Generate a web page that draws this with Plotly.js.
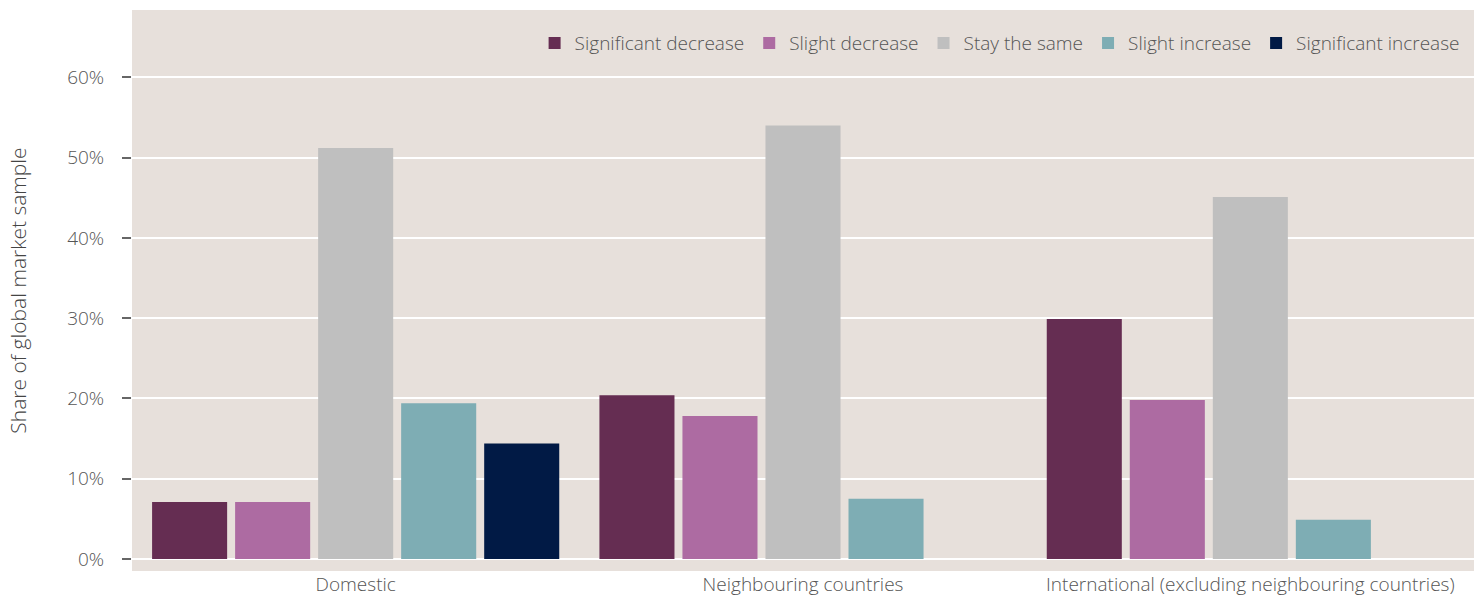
<!DOCTYPE html>
<html>
<head>
<meta charset="utf-8">
<script src="https://cdn.plot.ly/plotly-3.0.1.min.js"></script>
<style>
  html, body { margin: 0; padding: 0; background: #ffffff; }
  #chart { width: 1481px; height: 599px; }
</style>
</head>
<body>
<div id="chart"></div>
<script>
// Market regions (x categories)
const regions = ["Domestic", "Neighbouring countries", "International (excluding neighbouring countries)"];

// Expected change, share of global market sample (%)
const significantDecrease = [7.1, 20.4, 29.9];
const slightDecrease      = [7.1, 17.8, 19.8];
const stayTheSame         = [51.2, 54.0, 45.1];
const slightIncrease      = [19.4, 7.5, 4.9];
const significantIncrease = [14.4, 0, 0];

const seriesNames  = ["Significant decrease", "Slight decrease", "Stay the same", "Slight increase", "Significant increase"];
const seriesValues = [significantDecrease, slightDecrease, stayTheSame, slightIncrease, significantIncrease];
const seriesColors = ["#652d52", "#ad6ba2", "#bfbfbf", "#7eadb4", "#011a45"];

const traces = seriesNames.map((name, i) => ({
  type: "bar",
  name: name,
  x: regions,
  y: seriesValues[i],
  marker: { color: seriesColors[i], line: { width: 0 } },
  hovertemplate: "%{x}<br>" + name + ": %{y:.1f}%<extra></extra>"
}));

const font = "'Open Sans', sans-serif";

const layout = {
  width: 1481,
  height: 599,
  margin: { l: 132, r: 7, t: 10, b: 28 },
  paper_bgcolor: "#ffffff",
  plot_bgcolor: "#e7e0db",
  barmode: "group",
  bargap: 0.072,
  bargroupgap: 0.096,
  font: { family: font, color: "#555555", size: 18, weight: 300 },
  showlegend: true,
  legend: {
    orientation: "h",
    x: 0.993, xanchor: "right",
    y: 0.975, yanchor: "top",
    bgcolor: "rgba(0,0,0,0)",
    font: { family: font, size: 19, color: "#555555", weight: 300 },
    itemwidth: 30,
    tracegroupgap: 0,
    traceorder: "normal"
  },
  xaxis: {
    type: "category",
    showgrid: false,
    zeroline: false,
    showline: false,
    ticks: "",
    automargin: false,
    tickfont: { family: font, size: 19, color: "#555555", weight: 300 },
    ticklabelstandoff: 0
  },
  yaxis: {
    range: [-1.5, 68.4],
    tickvals: [0, 10, 20, 30, 40, 50, 60],
    ticktext: ["0%", "10%", "20%", "30%", "40%", "50%", "60%"],
    showgrid: true,
    gridcolor: "#ffffff",
    gridwidth: 2,
    zeroline: false,
    showline: false,
    automargin: false,
    ticks: "outside",
    ticklen: 9,
    tickwidth: 2,
    tickcolor: "#666666",
    ticklabelstandoff: 14,
    tickfont: { family: font, size: 19, color: "#555555", weight: 300 },
    title: {
      text: "Share of global market sample",
      font: { family: font, size: 21, color: "#444444", weight: 300 },
      standoff: 34
    }
  }
};

Plotly.newPlot("chart", traces, layout, { displayModeBar: false });
</script>
</body>
</html>
